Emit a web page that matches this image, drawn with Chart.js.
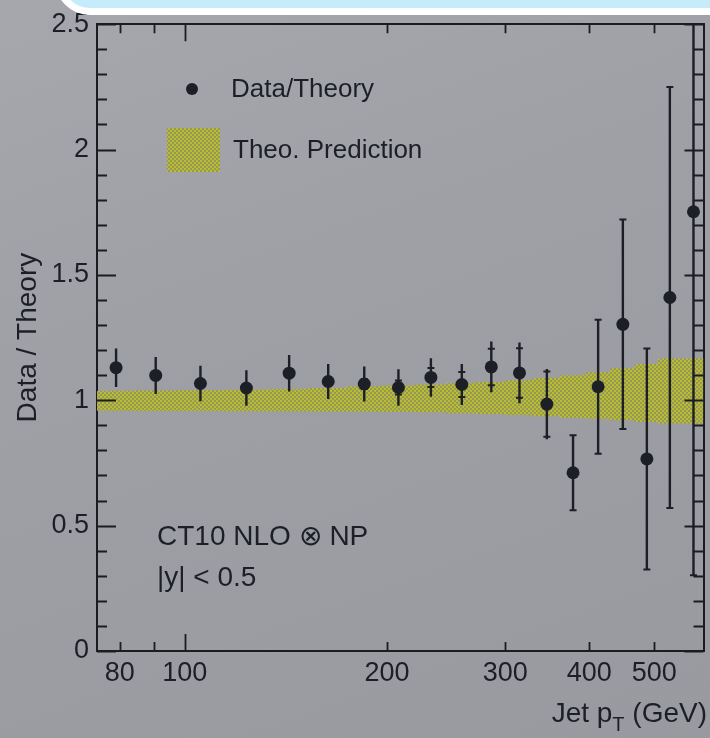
<!DOCTYPE html>
<html>
<head>
<meta charset="utf-8">
<title>Data / Theory</title>
<script src="https://cdn.jsdelivr.net/npm/chart.js@4.4.1/dist/chart.umd.min.js"></script>
<style>
  html, body { margin: 0; padding: 0; }
  body {
    width: 710px; height: 738px; overflow: hidden; position: relative;
    background: linear-gradient(160deg, #a5a7ad 0%, #9d9fa5 45%, #989aa0 100%);
  }
  #chart { position: absolute; left: 0; top: 0; }
  .banner {
    position: absolute; left: 55px; top: -60px; width: 720px; height: 61px;
    background: #c6ecfb; border: 7px solid #fff; border-radius: 35px;
  }
</style>
</head>
<body>
<canvas id="chart" width="710" height="738"></canvas>
<div class="banner"></div>
<script>
// pT bin centres (GeV) and measured Data/Theory ratio
const ptCentres = [79, 90.5, 105.5, 123.5, 143, 163.5, 185, 208, 232.5, 258.5, 286, 315, 346, 378.5, 412.5, 449, 487.5, 527.5, 572];
const ratio     = [1.130, 1.099, 1.067, 1.049, 1.108, 1.075, 1.065, 1.051, 1.091, 1.063, 1.133, 1.109, 0.985, 0.711, 1.054, 1.303, 0.766, 1.410, 1.752];
const errTotal  = [0.077, 0.074, 0.071, 0.071, 0.073, 0.070, 0.070, 0.073, 0.077, 0.082, 0.101, 0.121, 0.140, 0.150, 0.267, 0.418, 0.441, 0.840, 1.450];
const errStat   = [0.012, 0.012, 0.013, 0.014, 0.015, 0.017, 0.020, 0.028, 0.038, 0.050, 0.073, 0.099, 0.130, 0.150, 0.267, 0.418, 0.441, 0.840, 1.450];

// theory uncertainty band, one value per pT bin
const binEdges = [74, 84, 97, 114, 133, 153, 174, 196, 220, 245, 272, 300, 330, 362, 395, 430, 468, 507, 548, 592];
const bandLow  = [0.958, 0.958, 0.957, 0.957, 0.956, 0.956, 0.955, 0.955, 0.954, 0.952, 0.948, 0.945, 0.941, 0.936, 0.930, 0.926, 0.920, 0.913, 0.907];
const bandHigh = [1.036, 1.037, 1.039, 1.040, 1.042, 1.045, 1.049, 1.055, 1.059, 1.063, 1.068, 1.073, 1.080, 1.090, 1.100, 1.112, 1.128, 1.145, 1.167];

// axis ticks
const xTickLabels = [80, 100, 200, 300, 400, 500];
const xMajorTicks = [100];
const xMinorTicks = [80, 90, 200, 300, 400, 500];
const yTickLabels = [0, 0.5, 1, 1.5, 2, 2.5];
const yMinorTicks = [0.1, 0.2, 0.3, 0.4, 0.6, 0.7, 0.8, 0.9, 1.1, 1.2, 1.3, 1.4,
                     1.6, 1.7, 1.8, 1.9, 2.1, 2.2, 2.3, 2.4];

const ink = "#1d1f26";
const axisInk = "#1b1c22";
const fontFamily = '"Liberation Sans", Arial, Helvetica, sans-serif';

const canvas = document.getElementById("chart");
const ctx = canvas.getContext("2d");

// dithered olive fill like the printed band
function makeBandPattern() {
  const c = document.createElement("canvas");
  c.width = 4; c.height = 4;
  const g = c.getContext("2d");
  g.fillStyle = "rgb(150,152,86)";
  g.fillRect(0, 0, 4, 4);
  g.fillStyle = "rgb(186,188,50)";
  g.fillRect(0, 0, 2, 2);
  g.fillRect(2, 2, 2, 2);
  return ctx.createPattern(c, "repeat");
}
const bandFill = makeBandPattern();

const bandLowData  = binEdges.map((x, i) => ({ x: x, y: bandLow[Math.min(i, bandLow.length - 1)] }));
const bandHighData = binEdges.map((x, i) => ({ x: x, y: bandHigh[Math.min(i, bandHigh.length - 1)] }));
const pointData = ptCentres.map((x, i) => ({ x: x, y: ratio[i] }));
const barData = ptCentres.flatMap((x, i) => [
  { x: x, y: ratio[i] - errTotal[i] },
  { x: x, y: ratio[i] + errTotal[i] },
  { x: x, y: null }
]);
const capData = ptCentres.flatMap((x, i) => [
  { x: x, y: ratio[i] - errStat[i] },
  { x: x, y: ratio[i] + errStat[i] }
]);

// ticks pointing into the frame on all four sides
const frameTicks = {
  id: "frameTicks",
  afterDatasetsDraw(chart) {
    const { ctx, chartArea: a, scales: { x, y } } = chart;
    ctx.save();
    ctx.strokeStyle = axisInk;
    ctx.lineWidth = 1.8;
    ctx.beginPath();
    const xTick = (v, len) => {
      const px = Math.round(x.getPixelForValue(v)) + 0.5;
      ctx.moveTo(px, a.bottom); ctx.lineTo(px, a.bottom - len);
      ctx.moveTo(px, a.top); ctx.lineTo(px, a.top + len);
    };
    const yTick = (v, len) => {
      const py = Math.round(y.getPixelForValue(v)) + 0.5;
      ctx.moveTo(a.left, py); ctx.lineTo(a.left + len, py);
      ctx.moveTo(a.right, py); ctx.lineTo(a.right - len, py);
    };
    xMajorTicks.forEach(v => xTick(v, 17));
    xMinorTicks.forEach(v => xTick(v, 9));
    yTickLabels.forEach(v => yTick(v, 19));
    yMinorTicks.forEach(v => yTick(v, 10));
    ctx.stroke();
    ctx.restore();
  }
};

// legend, labels and x title drawn inside the plot
const plotText = {
  id: "plotText",
  afterDraw(chart) {
    const { ctx } = chart;
    const sets = chart.data.datasets;
    ctx.save();
    ctx.fillStyle = ink;
    ctx.textBaseline = "middle";
    ctx.textAlign = "left";

    // legend
    ctx.beginPath();
    ctx.arc(192, 89, 6, 0, Math.PI * 2);
    ctx.fillStyle = sets[0].backgroundColor;
    ctx.fill();
    ctx.fillStyle = bandFill;
    ctx.fillRect(167, 128, 53, 44);
    ctx.fillStyle = ink;
    ctx.font = "26px " + fontFamily;
    ctx.fillText(sets[0].label, 231, 90);
    ctx.fillText(sets[4].label, 233, 151);

    // model and rapidity labels
    ctx.font = "28px " + fontFamily;
    ctx.fillText("CT10 NLO \u2297 NP", 157, 537);
    ctx.fillText("|y| < 0.5", 157, 578);

    // x axis title with subscript
    ctx.textBaseline = "alphabetic";
    const big = "28px " + fontFamily;
    const small = "20px " + fontFamily;
    ctx.font = big;
    const w1 = ctx.measureText("Jet p").width;
    const w3 = ctx.measureText(" (GeV)").width;
    ctx.font = small;
    const w2 = ctx.measureText("T").width;
    let xs = 707 - (w1 + w2 + w3);
    ctx.font = big;
    ctx.fillText("Jet p", xs, 722);
    ctx.font = small;
    ctx.fillText("T", xs + w1, 731);
    ctx.font = big;
    ctx.fillText(" (GeV)", xs + w1 + w2, 722);
    ctx.restore();
  }
};

new Chart(ctx, {
  type: "line",
  data: {
    datasets: [
      {
        label: "Data/Theory",
        data: pointData,
        showLine: false,
        pointRadius: 6.5,
        pointHoverRadius: 6.5,
        backgroundColor: ink,
        pointBackgroundColor: ink,
        pointBorderWidth: 0,
        clip: 8,
        order: 1
      },
      {
        label: "stat caps",
        data: capData,
        showLine: false,
        pointStyle: "line",
        pointRadius: 3.5,
        pointBorderColor: ink,
        pointBorderWidth: 2,
        order: 2
      },
      {
        label: "total error",
        data: barData,
        borderColor: ink,
        borderWidth: 2.4,
        pointRadius: 0,
        spanGaps: false,
        order: 3
      },
      {
        label: "band low",
        data: bandLowData,
        stepped: "after",
        borderWidth: 0,
        pointRadius: 0,
        fill: false,
        order: 5
      },
      {
        label: "Theo. Prediction",
        data: bandHighData,
        stepped: "after",
        borderWidth: 0,
        pointRadius: 0,
        backgroundColor: bandFill,
        fill: 3,
        order: 4
      }
    ]
  },
  options: {
    responsive: false,
    animation: false,
    events: [],
    plugins: {
      legend: { display: false },
      tooltip: { enabled: false }
    },
    scales: {
      x: {
        type: "logarithmic",
        position: "bottom",
        min: 74,
        max: 592,
        afterBuildTicks: s => { s.ticks = xTickLabels.map(v => ({ value: v })); },
        afterFit: s => { s.height = 87; },
        ticks: {
          autoSkip: false,
          maxRotation: 0,
          padding: 6,
          color: ink,
          font: { family: fontFamily, size: 27 },
          callback: v => String(v)
        },
        grid: { display: false, drawTicks: false },
        border: { display: true, color: axisInk, width: 2 }
      },
      x2: {
        type: "logarithmic",
        position: "top",
        min: 74,
        max: 592,
        afterFit: s => { s.height = 18; },
        ticks: { display: false },
        grid: { display: false, drawTicks: false },
        border: { display: true, color: axisInk, width: 2 }
      },
      y: {
        type: "linear",
        position: "left",
        min: 0,
        max: 2.5,
        afterBuildTicks: s => { s.ticks = yTickLabels.map(v => ({ value: v })); },
        afterFit: s => { s.width = 97; },
        ticks: {
          padding: 8,
          color: ink,
          font: { family: fontFamily, size: 27 },
          callback: v => String(v)
        },
        grid: { display: false, drawTicks: false },
        border: { display: true, color: axisInk, width: 2 },
        title: {
          display: true,
          text: "Data / Theory",
          color: ink,
          font: { family: fontFamily, size: 28 },
          padding: { top: 11, bottom: 0 }
        }
      },
      y2: {
        type: "linear",
        position: "right",
        min: 0,
        max: 2.5,
        afterFit: s => { s.width = 3; },
        ticks: { display: false },
        grid: { display: false, drawTicks: false },
        border: { display: true, color: axisInk, width: 2 }
      }
    }
  },
  plugins: [frameTicks, plotText]
});
</script>
</body>
</html>
